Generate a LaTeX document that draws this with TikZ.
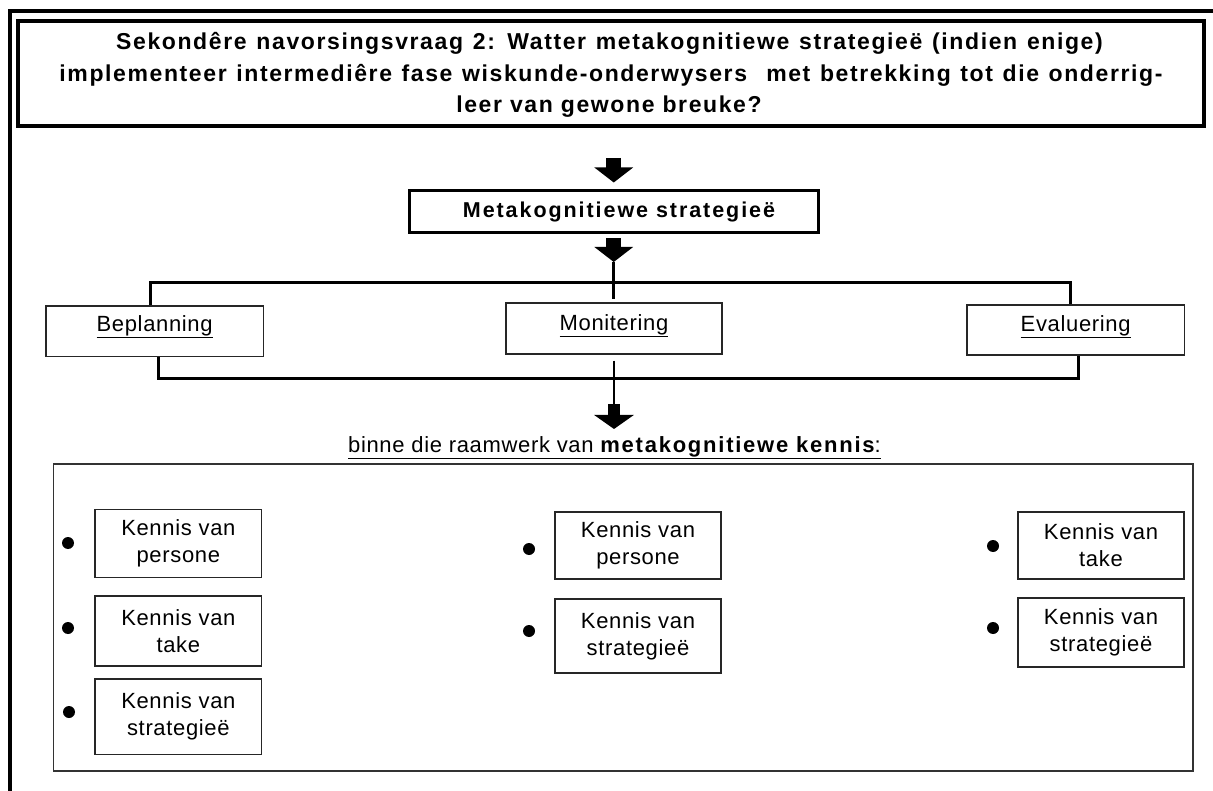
\documentclass[tikz,border=0pt]{standalone}
\usepackage{fontspec}
\setmainfont{Liberation Sans}
\newfontfamily\rfont[LetterSpace=3]{Liberation Sans}
\newfontfamily\bfont{Liberation Sans}
\newcommand{\spaced}[1]{\addfontfeature{LetterSpace=#1}}
\newcommand{\widerspace}[1]{\spaceskip=\dimexpr\fontdimen2\font+#1\relax}
\usetikzlibrary{arrows.meta,calc}

\tikzset{
  frame/.style={draw, line width=4pt},
  titlebox/.style={draw, line width=4pt, inner sep=0pt},
  mainbox/.style={draw, line width=3pt, inner sep=0pt},
  mainlabel/.style={inner sep=0pt, font=\fontsize{21.5}{26}\bfont\bfseries\spaced{9}},
  levelbox/.style={draw=black!85, line width=1.4pt, inner sep=0pt},
  levellabel/.style={anchor=base, inner sep=0pt, font=\fontsize{22}{26}\rfont},
  titleline/.style={anchor=base, inner sep=0pt, font=\fontsize{23}{28}\bfont\bfseries\spaced{7}},
  outerbox/.style={draw=black!80, line width=1.6pt, inner sep=0pt},
  kbox/.style={draw=black!85, line width=1.5pt, inner sep=0pt, align=center,
    font=\fontsize{22}{27}\rfont},
  bullet/.style={circle, fill=black, minimum size=12pt, inner sep=0pt},
  link/.style={line width=2.6pt},
  blockarrow/.style={line width=15pt, -{Triangle[width=38pt,length=15pt]}},
  smallarrow/.style={line width=12pt, -{Triangle[width=39pt,length=14pt]}},
}

\begin{document}
\begin{tikzpicture}[x=1pt,y=-1pt]
\clip (0,0) rectangle (1213,791);

% page frame, running on past the page edge
\draw[frame] (10,11) rectangle (1260,840);

% research question
\node[titlebox, minimum width=1186.5pt, minimum height=105.5pt] (title) at (610.75,73.75) {};
\node[titleline] (t1) at (609.5,50) {\widerspace{1.8pt}Sekondêre navorsingsvraag 2: Watter metakognitiewe strategieë (indien enige)};
\node[titleline] (t2) at (611,81.7) {\widerspace{1.6pt}implementeer intermediêre fase wiskunde-onderwysers\ \ met betrekking tot die onderrig-};
\node[titleline] (t3) at (609,112.7) {leer van gewone breuke?};

% central strategy box
\node[mainbox, minimum width=409.5pt, minimum height=42.5pt] (meta) at (613.75,211.75) {};
\node[mainlabel] (metal) at (619,211.75) {Metakognitiewe strategieë};

% three strategy phases
\node[levelbox, minimum width=217.3pt, minimum height=50.7pt] (bep) at (154.65,331.35) {};
\node[levelbox, minimum width=216pt, minimum height=51pt] (mon) at (614,328.5) {};
\node[levelbox, minimum width=217.3pt, minimum height=50pt] (eva) at (1075.65,330) {};
\node[levellabel] (bepl) at (154.65,331.7) {\underline{Beplanning}};
\node[levellabel] (monl) at (614,330.5) {\underline{Monitering}};
\node[levellabel] (eval) at (1075.65,331.7) {\underline{Evaluering}};

% arrows into and out of the strategy box
\coordinate (a1) at (613.75,158);
\coordinate (a2) at (613.75,262);
\draw[blockarrow, shorten >=6.5pt] (a1) -- (a1 |- meta.north);
\draw[blockarrow, shorten <=4pt] (meta.south) -- (a2);
\draw[link, shorten >=3pt] (a2) -- (a2 |- mon.north);

% brackets joining the phases
\draw[link] ([xshift=-4pt]bep.north) -- ++(0,-23) -| ([xshift=-5pt]eva.north);
\draw[link] ([xshift=4pt]bep.south) -- ++(0,21.3) -| ([xshift=2.7pt]eva.south);

% arrow down to the knowledge frame
\coordinate (a3) at (614,404);
\coordinate (a3t) at (614,429);
\draw[link, shorten <=6pt] (mon.south) -- (a3);
\draw[smallarrow] (a3) -- (a3t);

\node[anchor=base, inner sep=0pt, font=\fontsize{22}{26}\rfont] (frame) at (614.5,452)
  {\underline{binne die raamwerk van {\bfont\bfseries\spaced{8} metakognitiewe kennis}:}};

% knowledge frame
\node[outerbox, minimum width=1139.4pt, minimum height=307pt] (kframe) at (623,617.5) {};

\node[kbox, minimum width=166.7pt, minimum height=68pt] (k11) at (178.35,543.3) {Kennis van\\persone};
\node[kbox, minimum width=166.7pt, minimum height=70pt] (k12) at (178.35,631) {Kennis van\\take};
\node[kbox, minimum width=166.7pt, minimum height=75.3pt] (k13) at (178.35,716.65) {Kennis van\\strategieë};
\node[kbox, minimum width=166pt, minimum height=67pt] (k21) at (638,545.5) {Kennis van\\persone};
\node[kbox, minimum width=166pt, minimum height=74pt] (k22) at (638,636) {Kennis van\\strategieë};
\node[kbox, minimum width=166pt, minimum height=67pt] (k31) at (1101,545.5) {Kennis van\\take};
\node[kbox, minimum width=166pt, minimum height=69pt] (k32) at (1101,632.5) {Kennis van\\strategieë};

\node[bullet] (b11) at (68,543) {};
\node[bullet] (b12) at (68,628) {};
\node[bullet] (b13) at (69,712) {};
\node[bullet] (b21) at (529,549) {};
\node[bullet] (b22) at (529,631) {};
\node[bullet] (b31) at (993,546) {};
\node[bullet] (b32) at (993,628) {};
\end{tikzpicture}
\end{document}
